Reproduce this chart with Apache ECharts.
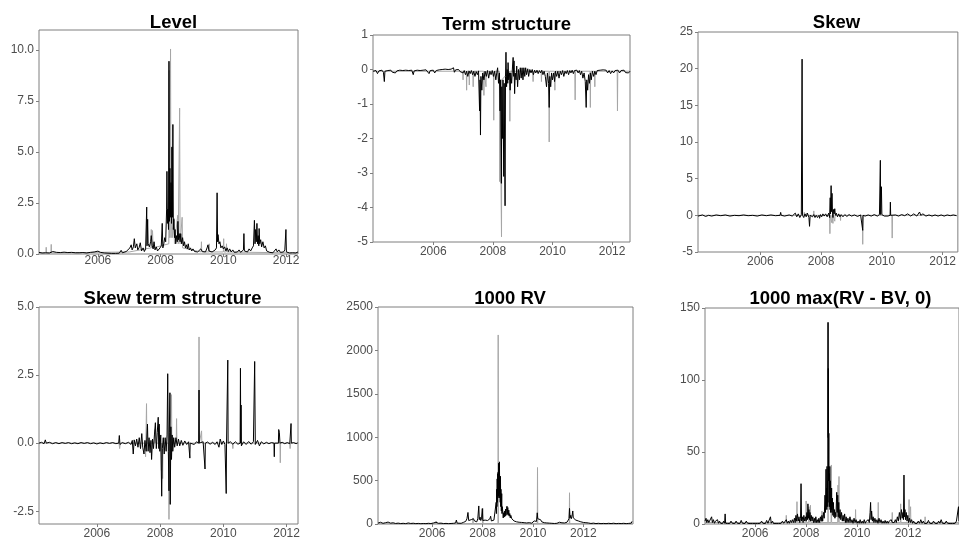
<!DOCTYPE html>
<html>
<head>
<meta charset="utf-8">
<script src="https://cdn.jsdelivr.net/npm/echarts@6/dist/echarts.min.js"></script>
<style>
  html, body { margin: 0; padding: 0; background: #fff; }
  #chart { width: 959px; height: 540px; }
</style>
</head>
<body>
<div id="chart"></div>
<script>
// 刻度
var yearTicks = [2006, 2008, 2010, 2012];
var levelTicks = [0, 2.5, 5, 7.5, 10];
var termTicks = [-5, -4, -3, -2, -1, 0, 1];
var skewTicks = [-5, 0, 5, 10, 15, 20, 25];
var skewTermTicks = [-2.5, 0, 2.5, 5];
var rvTicks = [0, 500, 1000, 1500, 2000, 2500];
var jumpTicks = [0, 50, 100, 150];

// Level
var levelBlack = [[2004.12,0.08],[2004.17,0.12],[2004.22,0.05],[2004.28,0.14],[2004.33,0.06],[2004.39,0.1],[2004.45,0.05],[2004.5,0.09],[2004.56,0.12],[2004.62,0.05],[2004.68,0.08],[2004.74,0.04],[2004.8,0.07],[2004.86,0.05],[2004.92,0.09],[2004.98,0.04],[2005.04,0.07],[2005.1,0.05],[2005.16,0.08],[2005.22,0.04],[2005.28,0.06],[2005.34,0.03],[2005.4,0.06],[2005.46,0.04],[2005.52,0.07],[2005.58,0.03],[2005.64,0.05],[2005.7,0.04],[2005.76,0.08],[2005.82,0.05],[2005.88,0.1],[2005.94,0.06],[2006.0,0.14],[2006.04,0.2],[2006.08,0.08],[2006.14,0.12],[2006.2,0.05],[2006.26,0.09],[2006.32,0.04],[2006.38,0.07],[2006.44,0.03],[2006.5,0.05],[2006.56,0.03],[2006.62,0.06],[2006.68,0.04],[2006.74,0.18],[2006.78,0.06],[2006.84,0.09],[2006.9,0.12],[2006.96,0.2],[2007.02,0.3],[2007.06,0.45],[2007.09,0.2],[2007.13,0.35],[2007.16,0.75],[2007.19,0.3],[2007.24,0.5],[2007.27,0.2],[2007.31,0.3],[2007.35,0.55],[2007.39,0.15],[2007.44,0.3],[2007.48,0.12],[2007.52,0.25],[2007.555,2.3],[2007.565,0.4],[2007.585,1.7],[2007.6,0.5],[2007.64,0.35],[2007.68,0.6],[2007.7,0.9],[2007.73,0.4],[2007.76,0.25],[2007.79,0.6],[2007.82,0.2],[2007.86,0.35],[2007.9,0.15],[2007.94,0.2],[2007.98,0.3],[2008.02,0.4],[2008.05,1.5],[2008.07,0.3],[2008.1,0.5],[2008.13,0.8],[2008.16,0.6],[2008.19,2.2],[2008.2,4.05],[2008.215,1.5],[2008.23,2.2],[2008.25,1.2],[2008.265,9.45],[2008.28,1.6],[2008.295,4.2],[2008.31,1.8],[2008.33,3.5],[2008.345,1.5],[2008.36,5.25],[2008.375,1.8],[2008.39,6.35],[2008.405,1.2],[2008.42,1.7],[2008.44,0.8],[2008.46,1.2],[2008.48,0.5],[2008.51,0.9],[2008.53,0.6],[2008.55,1.6],[2008.57,0.7],[2008.59,1.0],[2008.62,0.6],[2008.64,1.0],[2008.67,0.5],[2008.7,0.8],[2008.73,0.4],[2008.76,0.6],[2008.79,0.3],[2008.82,0.45],[2008.85,0.25],[2008.88,0.5],[2008.91,0.2],[2008.95,0.3],[2008.99,0.15],[2009.03,0.25],[2009.08,0.12],[2009.13,0.2],[2009.18,0.1],[2009.23,0.18],[2009.28,0.25],[2009.33,0.12],[2009.38,0.2],[2009.43,0.1],[2009.48,0.3],[2009.51,0.45],[2009.54,0.15],[2009.59,0.2],[2009.64,0.1],[2009.69,0.15],[2009.74,0.2],[2009.78,0.3],[2009.8,3.0],[2009.815,0.6],[2009.83,0.95],[2009.86,0.5],[2009.89,0.6],[2009.92,0.3],[2009.96,0.4],[2010.0,0.25],[2010.04,0.35],[2010.08,0.15],[2010.12,0.3],[2010.16,0.12],[2010.2,0.25],[2010.25,0.1],[2010.3,0.2],[2010.35,0.08],[2010.4,0.15],[2010.45,0.1],[2010.5,0.2],[2010.55,0.08],[2010.6,0.15],[2010.64,0.2],[2010.655,1.0],[2010.67,0.15],[2010.72,0.2],[2010.77,0.1],[2010.82,0.25],[2010.87,0.15],[2010.92,0.3],[2010.96,0.4],[2010.99,1.65],[2011.01,0.5],[2011.03,1.2],[2011.05,0.6],[2011.07,1.5],[2011.09,0.5],[2011.11,0.9],[2011.13,0.4],[2011.14,1.25],[2011.16,0.5],[2011.19,0.7],[2011.22,0.35],[2011.26,0.6],[2011.3,0.3],[2011.34,0.4],[2011.38,0.15],[2011.43,0.2],[2011.48,0.08],[2011.53,0.12],[2011.58,0.06],[2011.63,0.15],[2011.68,0.25],[2011.72,0.1],[2011.77,0.2],[2011.82,0.08],[2011.87,0.15],[2011.92,0.1],[2011.96,0.2],[2011.995,1.2],[2012.01,0.1],[2012.06,0.15],[2012.11,0.05],[2012.16,0.12],[2012.21,0.06],[2012.26,0.1],[2012.31,0.05],[2012.38,0.1]];
var levelGray = [[2004.12,0.05],[2004.34,0.05],[2004.35,0.33],[2004.36,0.05],[2004.5,0.05],[2004.51,0.47],[2004.52,0.05],[2007.0,0.1],[2007.69,0.3],[2007.7,1.2],[2007.72,0.3],[2007.74,1.15],[2007.76,0.3],[2008.26,0.5],[2008.27,9.0],[2008.285,0.8],[2008.315,10.05],[2008.33,0.8],[2008.355,5.2],[2008.37,0.8],[2008.425,1.75],[2008.44,0.5],[2008.545,1.9],[2008.56,0.5],[2008.605,7.15],[2008.62,0.5],[2008.685,1.8],[2008.7,0.3],[2009.29,0.1],[2009.3,0.6],[2009.31,0.1],[2009.54,0.1],[2009.55,0.5],[2009.56,0.1],[2010.0,0.1],[2010.01,0.75],[2010.02,0.1],[2010.09,0.1],[2010.1,0.5],[2010.11,0.1],[2012.38,0.05]];

// Term structure
var termBlack = [[2003.98,-0.05],[2004.03,-0.1],[2004.08,-0.03],[2004.13,-0.12],[2004.18,-0.04],[2004.23,-0.09],[2004.28,-0.02],[2004.33,-0.08],[2004.36,-0.35],[2004.38,-0.05],[2004.43,-0.1],[2004.48,-0.03],[2004.53,-0.07],[2004.58,-0.02],[2004.63,-0.08],[2004.68,-0.03],[2004.73,-0.1],[2004.78,-0.04],[2004.83,-0.07],[2004.88,-0.02],[2004.93,-0.06],[2004.98,-0.03],[2005.03,-0.08],[2005.08,-0.02],[2005.13,-0.06],[2005.18,-0.03],[2005.23,-0.07],[2005.28,-0.02],[2005.33,-0.15],[2005.36,-0.04],[2005.41,-0.08],[2005.46,-0.02],[2005.51,-0.06],[2005.56,-0.03],[2005.61,-0.07],[2005.66,-0.02],[2005.71,-0.05],[2005.76,-0.01],[2005.81,-0.06],[2005.86,-0.12],[2005.9,-0.03],[2005.95,-0.08],[2006.0,-0.02],[2006.05,-0.1],[2006.1,-0.03],[2006.15,-0.06],[2006.2,-0.01],[2006.25,-0.04],[2006.3,0.0],[2006.35,-0.03],[2006.4,0.01],[2006.45,-0.02],[2006.5,0.0],[2006.55,-0.02],[2006.6,0.01],[2006.65,-0.01],[2006.68,0.05],[2006.71,-0.08],[2006.75,-0.01],[2006.8,-0.04],[2006.85,0.0],[2006.9,-0.06],[2006.95,-0.02],[2007.0,-0.1],[2007.04,-0.03],[2007.08,-0.15],[2007.12,-0.05],[2007.16,-0.2],[2007.2,-0.04],[2007.24,-0.12],[2007.28,-0.03],[2007.32,-0.15],[2007.36,-0.05],[2007.4,-0.2],[2007.44,-0.06],[2007.48,-0.15],[2007.52,-0.04],[2007.555,-1.2],[2007.57,-0.3],[2007.585,-1.9],[2007.6,-0.2],[2007.63,-0.6],[2007.66,-0.1],[2007.7,-0.3],[2007.74,-0.05],[2007.78,-0.2],[2007.82,-0.03],[2007.86,-0.25],[2007.9,-0.05],[2007.94,-0.15],[2007.98,-0.03],[2008.02,-0.2],[2008.06,-0.05],[2008.1,-0.3],[2008.13,-0.1],[2008.16,0.05],[2008.19,-0.4],[2008.22,-0.1],[2008.24,-1.2],[2008.26,-0.3],[2008.285,-3.3],[2008.3,-0.5],[2008.32,-2.0],[2008.34,-0.3],[2008.365,-3.1],[2008.38,-0.4],[2008.41,-3.95],[2008.425,-0.2],[2008.44,0.5],[2008.46,-0.5],[2008.48,0.0],[2008.5,-0.4],[2008.51,0.2],[2008.53,-0.3],[2008.56,-0.1],[2008.58,-0.6],[2008.6,-0.1],[2008.63,-0.4],[2008.66,0.1],[2008.68,0.35],[2008.7,-0.2],[2008.71,0.25],[2008.73,-0.7],[2008.75,-0.1],[2008.78,-0.3],[2008.8,0.1],[2008.83,-0.5],[2008.86,0.0],[2008.89,-0.3],[2008.92,0.05],[2008.95,-0.25],[2008.98,0.05],[2009.01,-0.3],[2009.04,0.05],[2009.07,-0.2],[2009.1,0.05],[2009.13,-0.15],[2009.17,0.02],[2009.2,-0.2],[2009.24,0.0],[2009.28,-0.1],[2009.32,0.0],[2009.36,-0.15],[2009.4,-0.02],[2009.44,-0.1],[2009.48,-0.02],[2009.52,-0.12],[2009.56,-0.03],[2009.6,-0.1],[2009.64,-0.02],[2009.68,-0.15],[2009.72,-0.05],[2009.76,-0.2],[2009.8,-0.5],[2009.83,-0.1],[2009.87,-0.4],[2009.89,-1.1],[2009.91,-0.2],[2009.94,-0.5],[2009.97,-0.1],[2010.0,-0.3],[2010.04,-0.1],[2010.07,-0.35],[2010.1,-0.05],[2010.14,-0.2],[2010.18,-0.05],[2010.22,-0.25],[2010.26,-0.05],[2010.3,-0.15],[2010.34,-0.03],[2010.38,-0.2],[2010.42,-0.05],[2010.46,-0.12],[2010.5,-0.03],[2010.54,-0.15],[2010.58,-0.03],[2010.62,-0.1],[2010.66,-0.02],[2010.7,-0.12],[2010.74,-0.03],[2010.78,-0.08],[2010.82,-0.02],[2010.86,-0.1],[2010.9,-0.03],[2010.94,-0.15],[2010.98,-0.05],[2011.02,-0.25],[2011.06,-0.1],[2011.1,-0.35],[2011.13,-1.1],[2011.15,-0.3],[2011.18,-0.6],[2011.21,-0.15],[2011.24,-0.4],[2011.27,-0.1],[2011.3,-0.3],[2011.34,-0.05],[2011.38,-0.2],[2011.42,-0.05],[2011.46,-0.15],[2011.5,-0.03],[2011.55,-0.08],[2011.6,-0.02],[2011.65,-0.06],[2011.7,-0.01],[2011.75,-0.05],[2011.8,-0.02],[2011.85,-0.1],[2011.9,-0.03],[2011.95,-0.12],[2012.0,-0.04],[2012.05,-0.1],[2012.1,-0.03],[2012.15,-0.08],[2012.2,-0.02],[2012.25,-0.1],[2012.3,-0.03],[2012.35,-0.08],[2012.4,-0.02],[2012.45,-0.09],[2012.5,-0.04],[2012.55,-0.1],[2012.6,-0.05]];
var termGray = [[2003.98,-0.05],[2006.99,-0.05],[2007.0,-0.3],[2007.01,-0.05],[2007.11,-0.05],[2007.12,-0.6],[2007.13,-0.05],[2007.2,-0.05],[2007.21,-0.45],[2007.22,-0.05],[2007.33,-0.05],[2007.34,-0.5],[2007.35,-0.05],[2007.69,-0.05],[2007.7,-0.75],[2007.71,-0.05],[2007.76,-0.05],[2007.77,-0.5],[2007.78,-0.05],[2008.02,-0.05],[2008.03,-1.47],[2008.04,-0.05],[2008.22,-0.05],[2008.23,-3.25],[2008.24,-0.3],[2008.28,-0.3],[2008.29,-4.85],[2008.3,-0.3],[2008.56,-0.05],[2008.57,-1.5],[2008.58,-0.05],[2009.34,-0.05],[2009.35,-0.35],[2009.36,-0.05],[2009.62,-0.05],[2009.63,-0.35],[2009.64,-0.05],[2009.88,-0.05],[2009.89,-2.1],[2009.9,-0.05],[2010.07,-0.05],[2010.08,-0.6],[2010.09,-0.05],[2010.75,-0.05],[2010.76,-0.88],[2010.77,-0.05],[2011.26,-0.05],[2011.27,-1.1],[2011.28,-0.05],[2011.41,-0.05],[2011.42,-0.5],[2011.43,-0.05],[2012.17,-0.05],[2012.18,-1.2],[2012.19,-0.05],[2012.6,-0.05]];

// Skew
var skewBlack = [[2003.95,-0.1],[2004.1,0.05],[2004.2,-0.15],[2004.3,0.0],[2004.4,-0.1],[2004.55,0.05],[2004.7,-0.05],[2004.85,0.05],[2005.0,-0.1],[2005.15,0.0],[2005.3,-0.05],[2005.45,0.05],[2005.6,-0.05],[2005.75,0.0],[2005.9,-0.1],[2006.05,0.05],[2006.2,-0.05],[2006.35,0.05],[2006.5,-0.05],[2006.65,0.0],[2006.67,0.4],[2006.69,0.0],[2006.8,-0.1],[2006.95,0.05],[2007.05,-0.1],[2007.15,0.3],[2007.2,-0.2],[2007.25,0.2],[2007.3,-0.3],[2007.35,0.1],[2007.375,21.3],[2007.39,0.0],[2007.43,-0.3],[2007.47,0.2],[2007.51,-0.2],[2007.55,0.3],[2007.6,-0.3],[2007.62,-1.5],[2007.64,0.0],[2007.68,0.2],[2007.72,-0.2],[2007.76,0.1],[2007.8,-0.3],[2007.84,0.0],[2007.88,-0.3],[2007.91,-0.5],[2007.93,0.0],[2007.95,-0.4],[2007.98,0.1],[2008.02,-0.2],[2008.06,0.2],[2008.1,-0.1],[2008.15,0.2],[2008.2,-0.2],[2008.25,0.3],[2008.28,-0.3],[2008.3,2.4],[2008.31,0.2],[2008.33,4.05],[2008.345,0.5],[2008.36,3.0],[2008.375,0.3],[2008.39,-0.3],[2008.41,0.8],[2008.43,0.2],[2008.45,0.9],[2008.47,0.0],[2008.5,0.3],[2008.54,-0.2],[2008.58,0.2],[2008.62,-0.2],[2008.66,0.1],[2008.72,-0.2],[2008.78,0.1],[2008.85,-0.15],[2008.92,0.1],[2009.0,-0.1],[2009.1,0.05],[2009.2,-0.15],[2009.3,0.05],[2009.36,0.0],[2009.37,-2.05],[2009.38,0.0],[2009.45,-0.1],[2009.55,0.05],[2009.65,-0.1],[2009.75,0.1],[2009.85,-0.1],[2009.92,0.1],[2009.95,7.5],[2009.96,0.1],[2009.985,3.9],[2010.0,0.1],[2010.04,0.3],[2010.08,-0.1],[2010.14,0.1],[2010.2,-0.1],[2010.27,0.0],[2010.28,1.8],[2010.29,0.0],[2010.35,-0.1],[2010.45,0.05],[2010.55,-0.1],[2010.65,0.1],[2010.75,-0.05],[2010.85,0.2],[2010.95,-0.1],[2011.05,0.2],[2011.15,-0.1],[2011.24,0.45],[2011.28,0.0],[2011.35,0.2],[2011.45,-0.1],[2011.55,0.05],[2011.65,-0.1],[2011.75,0.05],[2011.85,-0.1],[2011.95,0.05],[2012.05,-0.1],[2012.15,0.05],[2012.25,-0.05],[2012.35,0.05],[2012.46,-0.05]];
var skewGray = [[2003.95,0],[2007.44,0],[2007.45,0.4],[2007.46,0],[2007.52,0],[2007.53,0.3],[2007.54,0],[2007.75,0],[2007.76,0.6],[2007.77,0],[2008.28,0],[2008.29,-2.5],[2008.3,0],[2008.34,0],[2008.35,-1.0],[2008.36,0],[2008.38,0],[2008.39,-1.1],[2008.4,0],[2008.44,0],[2008.45,-0.8],[2008.46,0],[2008.63,0],[2008.64,-0.7],[2008.65,0],[2009.36,0],[2009.37,-3.95],[2009.38,0],[2010.33,0],[2010.34,-3.1],[2010.35,0],[2012.46,0]];

// Skew term structure
var skewTermBlack = [[2004.17,0.0],[2004.25,0.03],[2004.33,-0.02],[2004.37,0.12],[2004.4,0.0],[2004.5,0.03],[2004.6,-0.02],[2004.7,0.02],[2004.8,-0.02],[2004.9,0.02],[2005.0,-0.01],[2005.1,0.02],[2005.2,-0.02],[2005.3,0.01],[2005.4,-0.02],[2005.5,0.02],[2005.6,-0.01],[2005.7,0.02],[2005.8,-0.02],[2005.9,0.01],[2006.0,-0.03],[2006.1,0.01],[2006.2,-0.02],[2006.3,0.02],[2006.4,-0.01],[2006.5,0.02],[2006.6,-0.02],[2006.69,0.0],[2006.71,0.28],[2006.73,-0.05],[2006.8,0.02],[2006.9,-0.02],[2007.0,0.03],[2007.08,-0.05],[2007.12,0.1],[2007.15,-0.4],[2007.18,0.12],[2007.22,-0.1],[2007.26,0.15],[2007.3,-0.15],[2007.34,0.2],[2007.38,-0.2],[2007.42,0.35],[2007.45,-0.15],[2007.49,-0.4],[2007.52,0.1],[2007.56,-0.3],[2007.6,0.7],[2007.62,-0.3],[2007.65,0.2],[2007.68,-0.35],[2007.71,0.1],[2007.73,-0.6],[2007.76,0.15],[2007.79,-0.2],[2007.82,0.3],[2007.85,0.75],[2007.88,-0.2],[2007.91,0.4],[2007.94,0.95],[2007.96,-0.2],[2007.97,0.7],[2007.99,-0.3],[2008.02,0.3],[2008.05,-1.95],[2008.07,-0.2],[2008.1,0.2],[2008.13,-0.4],[2008.16,0.2],[2008.19,-0.3],[2008.22,0.3],[2008.24,2.55],[2008.26,-0.3],[2008.28,-1.75],[2008.29,0.4],[2008.31,1.85],[2008.32,-2.25],[2008.34,0.6],[2008.36,-0.6],[2008.38,0.3],[2008.4,-0.3],[2008.43,0.2],[2008.46,-0.15],[2008.5,0.2],[2008.54,-0.1],[2008.58,0.15],[2008.62,-0.1],[2008.67,0.1],[2008.72,-0.08],[2008.78,0.08],[2008.84,-0.05],[2008.9,0.05],[2008.93,0.0],[2008.94,-0.55],[2008.95,0.0],[2009.0,0.05],[2009.08,-0.05],[2009.15,0.05],[2009.22,0.0],[2009.23,1.95],[2009.24,0.0],[2009.3,-0.05],[2009.36,0.05],[2009.41,0.0],[2009.42,-0.95],[2009.43,0.0],[2009.5,0.04],[2009.58,-0.04],[2009.66,0.03],[2009.74,-0.05],[2009.8,0.05],[2009.86,-0.15],[2009.9,0.15],[2009.95,-0.05],[2010.0,0.08],[2010.05,-0.05],[2010.08,0.0],[2010.09,-1.85],[2010.1,0.0],[2010.13,0.0],[2010.14,3.05],[2010.15,0.0],[2010.22,0.05],[2010.3,-0.04],[2010.38,0.05],[2010.46,-0.04],[2010.53,0.0],[2010.54,2.75],[2010.55,0.0],[2010.56,1.4],[2010.57,-0.1],[2010.64,0.05],[2010.72,-0.05],[2010.8,0.06],[2010.88,-0.04],[2010.95,0.05],[2010.99,3.0],[2011.0,1.4],[2011.01,-0.05],[2011.08,0.1],[2011.14,-0.1],[2011.2,0.05],[2011.28,-0.03],[2011.36,0.03],[2011.44,-0.02],[2011.52,0.02],[2011.6,0.0],[2011.61,-0.5],[2011.62,0.0],[2011.68,0.03],[2011.74,0.0],[2011.75,0.5],[2011.77,0.4],[2011.79,0.0],[2011.86,0.03],[2011.94,-0.02],[2012.02,0.02],[2012.1,-0.02],[2012.13,0.0],[2012.14,0.72],[2012.15,0.0],[2012.22,0.02],[2012.3,-0.02],[2012.35,0.01]];
var skewTermGray = [[2004.17,0],[2006.7,0],[2006.72,-0.2],[2006.74,0],[2007.53,0],[2007.54,-0.5],[2007.55,0],[2007.57,1.45],[2007.58,0],[2007.83,0],[2007.84,0.5],[2007.86,0],[2008.03,0],[2008.04,-1.0],[2008.05,0],[2008.08,-1.3],[2008.09,0],[2008.27,0],[2008.28,-2.8],[2008.29,0],[2008.35,0],[2008.36,1.78],[2008.37,0],[2008.51,0],[2008.52,0.9],[2008.53,0],[2009.22,0],[2009.23,3.9],[2009.24,0],[2009.3,0],[2009.31,0.45],[2009.32,0],[2010.29,0],[2010.3,-0.2],[2010.31,0],[2011.79,0],[2011.8,-0.72],[2011.81,0],[2012.1,0],[2012.11,-0.2],[2012.12,0],[2012.35,0]];

// 1000 RV
var rvBlack = [[2003.85,10],[2003.95,20],[2004.05,8],[2004.15,15],[2004.25,22],[2004.35,10],[2004.45,14],[2004.55,6],[2004.65,10],[2004.75,5],[2004.85,8],[2004.95,4],[2005.05,12],[2005.15,6],[2005.25,9],[2005.35,4],[2005.45,7],[2005.55,3],[2005.65,6],[2005.75,4],[2005.85,8],[2005.95,5],[2006.05,12],[2006.15,20],[2006.25,8],[2006.35,10],[2006.45,5],[2006.55,7],[2006.65,4],[2006.75,6],[2006.85,8],[2006.93,12],[2006.96,45],[2006.99,10],[2007.05,15],[2007.15,8],[2007.25,20],[2007.33,30],[2007.38,60],[2007.42,133],[2007.45,40],[2007.5,25],[2007.55,50],[2007.6,30],[2007.64,60],[2007.68,35],[2007.72,50],[2007.77,25],[2007.81,60],[2007.85,208],[2007.87,50],[2007.9,80],[2007.93,40],[2007.96,70],[2007.99,178],[2008.01,40],[2008.05,30],[2008.1,45],[2008.15,25],[2008.2,40],[2008.25,30],[2008.29,60],[2008.32,90],[2008.35,35],[2008.4,25],[2008.45,45],[2008.5,60],[2008.54,250],[2008.55,120],[2008.56,400],[2008.57,200],[2008.58,520],[2008.59,250],[2008.6,580],[2008.61,300],[2008.62,600],[2008.625,320],[2008.635,700],[2008.645,350],[2008.655,560],[2008.665,300],[2008.67,716],[2008.68,350],[2008.69,500],[2008.7,250],[2008.71,550],[2008.72,200],[2008.73,400],[2008.745,150],[2008.76,350],[2008.77,120],[2008.78,200],[2008.8,150],[2008.82,70],[2008.84,130],[2008.86,80],[2008.88,150],[2008.9,90],[2008.91,170],[2008.93,100],[2008.95,180],[2008.97,205],[2008.98,110],[2009.0,190],[2009.02,100],[2009.04,160],[2009.06,90],[2009.08,120],[2009.1,70],[2009.12,100],[2009.16,60],[2009.2,50],[2009.25,35],[2009.3,45],[2009.35,25],[2009.4,35],[2009.45,20],[2009.5,30],[2009.55,18],[2009.6,25],[2009.65,15],[2009.7,20],[2009.75,12],[2009.8,25],[2009.85,15],[2009.9,20],[2009.95,10],[2010.0,18],[2010.05,35],[2010.1,15],[2010.14,30],[2010.17,129],[2010.19,60],[2010.22,80],[2010.25,40],[2010.3,50],[2010.35,25],[2010.4,30],[2010.45,15],[2010.5,25],[2010.55,12],[2010.6,18],[2010.65,10],[2010.7,15],[2010.75,8],[2010.8,12],[2010.85,6],[2010.9,10],[2010.95,8],[2011.0,12],[2011.05,20],[2011.1,10],[2011.15,14],[2011.2,8],[2011.25,12],[2011.3,15],[2011.35,20],[2011.4,30],[2011.43,60],[2011.45,180],[2011.47,70],[2011.5,100],[2011.52,60],[2011.55,90],[2011.58,150],[2011.6,70],[2011.63,90],[2011.66,50],[2011.7,45],[2011.75,30],[2011.8,35],[2011.85,20],[2011.9,25],[2011.95,12],[2012.0,18],[2012.05,10],[2012.1,15],[2012.15,8],[2012.2,12],[2012.3,6],[2012.4,10],[2012.5,5],[2012.6,8],[2012.7,4],[2012.8,7],[2012.9,4],[2013.0,8],[2013.1,5],[2013.2,9],[2013.3,4],[2013.4,7],[2013.46,18],[2013.5,5],[2013.6,8],[2013.7,4],[2013.8,7],[2013.9,10],[2013.93,30],[2013.97,8]];
var rvGray = [[2003.85,5],[2006.15,5],[2006.16,34],[2006.17,5],[2007.61,5],[2007.62,70],[2007.63,5],[2008.0,5],[2008.01,180],[2008.02,5],[2008.615,5],[2008.62,2178],[2008.625,5],[2010.17,5],[2010.18,651],[2010.19,5],[2011.44,5],[2011.45,360],[2011.46,5],[2013.97,5]];

// 1000 max(RV - BV, 0)
var jumpBlack = [[2004.03,2],[2004.07,4],[2004.1,1],[2004.14,3],[2004.18,1],[2004.22,2],[2004.25,0.5],[2004.29,5],[2004.32,1],[2004.36,3],[2004.4,0.5],[2004.44,2],[2004.48,1],[2004.52,3],[2004.56,0.5],[2004.6,2],[2004.64,0.5],[2004.68,1.5],[2004.72,0.3],[2004.76,2],[2004.8,0.5],[2004.82,7],[2004.84,0.5],[2004.88,1.5],[2004.92,0.3],[2004.96,1],[2005.0,0.3],[2005.05,2],[2005.1,0.5],[2005.15,1.5],[2005.2,0.3],[2005.25,2],[2005.3,0.5],[2005.35,1.5],[2005.4,0.3],[2005.45,2.5],[2005.5,0.5],[2005.55,1.5],[2005.6,0.3],[2005.65,2],[2005.7,0.5],[2005.75,1],[2005.8,0.3],[2005.85,1.5],[2005.9,0.3],[2005.95,1],[2006.0,0.3],[2006.05,1.5],[2006.1,0.3],[2006.15,1],[2006.2,0.5],[2006.25,2],[2006.3,0.5],[2006.35,1.5],[2006.4,0.3],[2006.45,2.5],[2006.5,0.5],[2006.55,1.5],[2006.6,5],[2006.63,0.5],[2006.68,2],[2006.72,0.3],[2006.77,1.5],[2006.82,0.3],[2006.87,1],[2006.92,0.3],[2006.97,1.5],[2007.02,0.5],[2007.07,2],[2007.12,0.5],[2007.17,1.5],[2007.22,3],[2007.26,0.5],[2007.3,2],[2007.34,0.5],[2007.38,2.5],[2007.42,1],[2007.46,3],[2007.5,1],[2007.54,4],[2007.57,1],[2007.6,6],[2007.63,2],[2007.66,7],[2007.69,2],[2007.72,5],[2007.75,1],[2007.78,4],[2007.8,28],[2007.82,2],[2007.85,5],[2007.88,1],[2007.91,6],[2007.94,2],[2007.97,5],[2008.0,2],[2008.03,8],[2008.05,3],[2008.07,14],[2008.09,4],[2008.11,10],[2008.13,3],[2008.15,8],[2008.17,2],[2008.2,6],[2008.23,2],[2008.26,5],[2008.29,1],[2008.32,4],[2008.35,1],[2008.38,5],[2008.41,1],[2008.44,3],[2008.47,1],[2008.5,4],[2008.53,1],[2008.56,5],[2008.59,2],[2008.62,6],[2008.65,2],[2008.68,8],[2008.71,4],[2008.74,20],[2008.76,8],[2008.78,38],[2008.79,12],[2008.8,25],[2008.81,10],[2008.82,40],[2008.83,15],[2008.84,30],[2008.85,12],[2008.86,140],[2008.865,60],[2008.87,108],[2008.88,30],[2008.89,63],[2008.9,15],[2008.91,35],[2008.92,12],[2008.93,40],[2008.94,10],[2008.95,30],[2008.96,8],[2008.97,22],[2008.99,10],[2009.0,25],[2009.01,8],[2009.03,18],[2009.05,6],[2009.07,15],[2009.09,5],[2009.11,10],[2009.13,4],[2009.15,8],[2009.17,5],[2009.2,22],[2009.22,8],[2009.24,20],[2009.26,5],[2009.28,15],[2009.3,4],[2009.33,10],[2009.36,3],[2009.39,8],[2009.42,2],[2009.45,6],[2009.48,2],[2009.51,7],[2009.54,1],[2009.57,5],[2009.6,1],[2009.64,4],[2009.68,1],[2009.72,5],[2009.76,1],[2009.8,3],[2009.84,0.5],[2009.88,4],[2009.92,1],[2009.96,3],[2010.0,0.5],[2010.04,2],[2010.08,0.5],[2010.12,3],[2010.16,0.5],[2010.2,2],[2010.24,0.5],[2010.28,3],[2010.32,0.5],[2010.36,2],[2010.4,1],[2010.44,3],[2010.48,1],[2010.51,8],[2010.53,15],[2010.55,3],[2010.57,9],[2010.6,2],[2010.63,5],[2010.66,1],[2010.7,4],[2010.74,1],[2010.78,3],[2010.82,0.5],[2010.86,4],[2010.9,1],[2010.94,3],[2010.98,0.5],[2011.02,2],[2011.06,0.5],[2011.1,2.5],[2011.14,0.5],[2011.18,2],[2011.22,0.5],[2011.26,2],[2011.3,1],[2011.34,3],[2011.38,1],[2011.42,2],[2011.46,1],[2011.5,3],[2011.54,1],[2011.58,5],[2011.62,2],[2011.66,8],[2011.7,3],[2011.74,10],[2011.77,4],[2011.8,8],[2011.82,3],[2011.84,34],[2011.86,5],[2011.88,10],[2011.9,3],[2011.93,8],[2011.96,2],[2011.99,6],[2012.02,1],[2012.06,4],[2012.1,1],[2012.14,3],[2012.18,0.5],[2012.22,2],[2012.26,0.5],[2012.3,1.5],[2012.35,0.3],[2012.4,2],[2012.45,0.5],[2012.5,3],[2012.55,0.5],[2012.6,2],[2012.65,0.3],[2012.7,1.5],[2012.75,0.5],[2012.8,2.5],[2012.85,0.5],[2012.9,1.5],[2012.95,0.3],[2013.0,2],[2013.05,0.5],[2013.1,1.5],[2013.15,0.3],[2013.2,2],[2013.25,0.5],[2013.3,3],[2013.35,0.5],[2013.4,1.5],[2013.45,0.3],[2013.5,2],[2013.55,0.5],[2013.6,1.5],[2013.65,0.3],[2013.7,1],[2013.75,0.3],[2013.8,1.5],[2013.85,0.5],[2013.9,2],[2013.95,1],[2013.98,12],[2014.0,2]];
var jumpGray = [[2004.03,1],[2007.21,1],[2007.22,6],[2007.23,1],[2007.63,1],[2007.64,15.5],[2007.65,1],[2007.99,1],[2008.0,16],[2008.01,1],[2008.1,1],[2008.11,12],[2008.12,1],[2008.16,1],[2008.17,13],[2008.18,1],[2008.61,1],[2008.62,9],[2008.63,1],[2008.855,1],[2008.86,140],[2008.865,1],[2008.98,1],[2008.99,41],[2009.0,1],[2009.24,1],[2009.25,27],[2009.26,1],[2009.28,1],[2009.29,33],[2009.3,1],[2009.93,1],[2009.94,10],[2009.95,1],[2010.82,1],[2010.83,15],[2010.84,1],[2011.37,1],[2011.38,8],[2011.39,1],[2011.7,1],[2011.71,14],[2011.72,1],[2012.03,1],[2012.04,17],[2012.05,1],[2012.09,1],[2012.1,12],[2012.11,1],[2012.66,1],[2012.67,5],[2012.68,1],[2014.0,1]];

// 六个小图的位置
var panels = [
    {title: 'Level', cx: 168.5, ty: 8.5, left: 39, top: 30, width: 259, height: 224, xMin: 2004.12, xMax: 2012.38, yMin: 0, yMax: 10.98, ticks: levelTicks, dec: 1, xm: 1, black: levelBlack, gray: levelGray},
    {title: 'Term structure', cx: 501.5, ty: 10.5, left: 373, top: 35, width: 257, height: 207, xMin: 2003.98, xMax: 2012.6, yMin: -5, yMax: 1, ticks: termTicks, dec: 0, xm: 4, black: termBlack, gray: termGray},
    {title: 'Skew', cx: 831.5, ty: 8.5, left: 698, top: 32, width: 262, height: 220, xMin: 2003.95, xMax: 2012.5, yMin: -5, yMax: 25, ticks: skewTicks, dec: 0, xm: 4, black: skewBlack, gray: skewGray},
    {title: 'Skew term structure', cx: 167.5, ty: 284.5, left: 39, top: 307, width: 259, height: 220, xMin: 2004.17, xMax: 2012.36, yMin: -2.97, yMax: 5, ticks: skewTermTicks, dec: 1, xm: 4, black: skewTermBlack, gray: skewTermGray},
    {title: '1000 RV', cx: 505, ty: 284.5, left: 378, top: 307, width: 255, height: 220, xMin: 2003.85, xMax: 2013.97, yMin: 0, yMax: 2500, ticks: rvTicks, dec: 0, xm: 4, black: rvBlack, gray: rvGray},
    {title: '1000 max(RV - BV, 0)', cx: 835.5, ty: 284.5, left: 705, top: 308, width: 255, height: 220, xMin: 2004.03, xMax: 2014.0, yMin: 0, yMax: 150, ticks: jumpTicks, dec: 0, xm: 4, black: jumpBlack, gray: jumpGray}
];

var myChart = echarts.init(document.getElementById('chart'));
var option = {
    animation: false,
    backgroundColor: '#fff',
    title: [], grid: [], xAxis: [], yAxis: [], series: []
};
var labelStyle = {color: '#4d4d4d', fontSize: 12, fontFamily: 'Liberation Sans, Arial, sans-serif'};

panels.forEach(function (p, i) {
    option.title.push({
        text: p.title, left: p.cx, top: p.ty, textAlign: 'center',
        textStyle: {fontSize: 18.5, fontWeight: 'bold', color: '#000', fontFamily: 'Liberation Sans, Arial, sans-serif'}
    });
    option.grid.push({
        left: p.left, top: p.top, width: p.width, height: p.height,
        show: true, borderColor: '#7f7f7f', borderWidth: 1, backgroundColor: 'transparent'
    });
    option.xAxis.push({
        type: 'value', gridIndex: i, min: p.xMin, max: p.xMax,
        axisLine: {show: false, onZero: false},
        axisTick: {show: true, length: 3, customValues: yearTicks, lineStyle: {color: '#7f7f7f'}},
        axisLabel: Object.assign({
            margin: p.xm, customValues: yearTicks,
            formatter: function (v) { return String(Math.round(v)); }
        }, labelStyle),
        splitLine: {show: false}
    });
    option.yAxis.push({
        type: 'value', gridIndex: i, min: p.yMin, max: p.yMax,
        axisLine: {show: false, onZero: false},
        axisTick: {show: true, length: 3, customValues: p.ticks, lineStyle: {color: '#7f7f7f'}},
        axisLabel: Object.assign({
            margin: 5, customValues: p.ticks,
            formatter: (function (d) { return function (v) { return v.toFixed(d); }; })(p.dec)
        }, labelStyle),
        splitLine: {show: false}
    });
    option.series.push({
        type: 'line', xAxisIndex: i, yAxisIndex: i, data: p.gray,
        showSymbol: false, symbol: 'none', silent: true, z: 2,
        lineStyle: {color: '#a6a6a6', width: 1}
    });
    option.series.push({
        type: 'line', xAxisIndex: i, yAxisIndex: i, data: p.black,
        showSymbol: false, symbol: 'none', silent: true, z: 3,
        lineStyle: {color: '#000', width: 1}
    });
});

myChart.setOption(option);
</script>
</body>
</html>
